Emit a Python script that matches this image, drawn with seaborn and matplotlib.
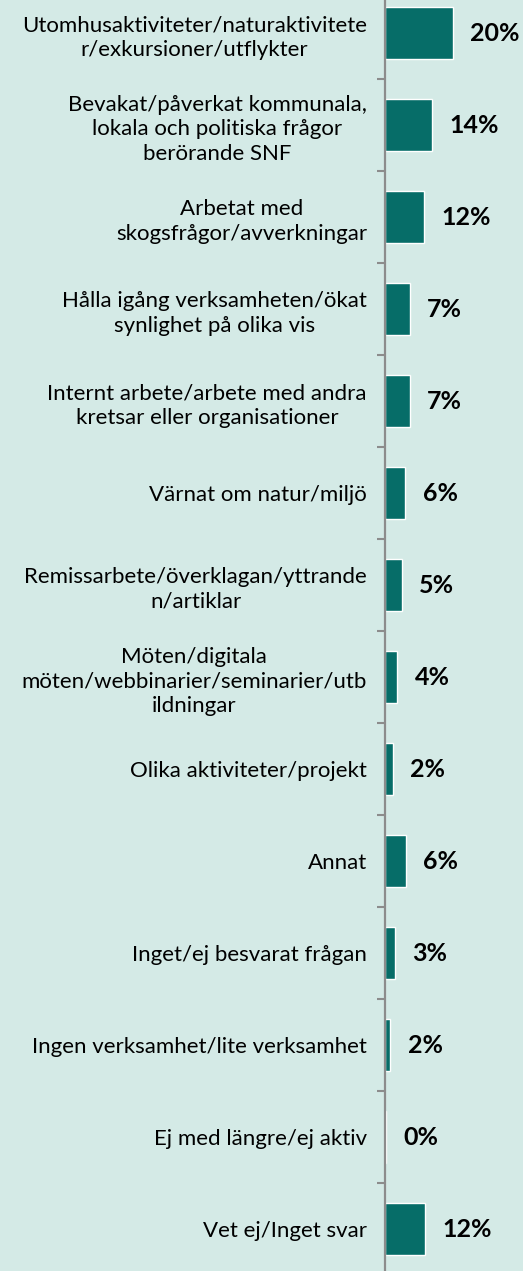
import numpy as np
import seaborn as sns
import matplotlib.pyplot as plt
import pandas as pd
from matplotlib.ticker import FixedLocator

categories = [
    "Utomhusaktiviteter/naturaktivitete\nr/exkursioner/utflykter",
    "Bevakat/påverkat kommunala,\nlokala och politiska frågor\nberörande SNF",
    "Arbetat med\nskogsfrågor/avverkningar",
    "Hålla igång verksamheten/ökat\nsynlighet på olika vis",
    "Internt arbete/arbete med andra\nkretsar eller organisationer",
    "Värnat om natur/miljö",
    "Remissarbete/överklagan/yttrande\nn/artiklar",
    "Möten/digitala\nmöten/webbinarier/seminarier/utb\nildningar",
    "Olika aktiviteter/projekt",
    "Annat",
    "Inget/ej besvarat frågan",
    "Ingen verksamhet/lite verksamhet",
    "Ej med längre/ej aktiv",
    "Vet ej/Inget svar",
]
values = [20.1, 14.0, 11.6, 7.4, 7.3, 6.0, 5.0, 3.6, 2.3, 6.2, 3.0, 1.6, 0.3, 11.8]
value_labels = ["20%", "14%", "12%", "7%", "7%", "6%", "5%", "4%", "2%", "6%", "3%", "2%", "0%", "12%"]

BG = "#D4EAE6"
BAR = "#066D68"
AXIS = "#8C8C8C"

sns.set_theme(style="white")
plt.rcParams['font.family'] = ['Lato', 'DejaVu Sans']

df = pd.DataFrame(dict(Kategori=categories, Andel=values))

fig = plt.figure(figsize=(5.23, 12.71), dpi=100, facecolor=BG)
ax = fig.add_axes([385 / 523, -4 / 1271, 138 / 523, 1288 / 1271])
ax.set_facecolor(BG)

sns.barplot(data=df, x="Andel", y="Kategori", orient="h", color=BAR,
            width=0.57, saturation=1, ax=ax)

for i, (v, lab) in enumerate(zip(values, value_labels)):
    ax.annotate(lab, (v, i), xytext=(12.5, 0), textcoords="offset points",
                va="center", ha="left", fontsize=18, fontweight="bold",
                color="black")

ax.set_xlim(0, 41)
ax.set_ylim(len(categories) - 0.5, -0.5)
ax.set_xlabel("")
ax.set_ylabel("")
ax.set_xticks([])

ax.set_yticks(range(len(categories)))
ax.set_yticklabels(categories, fontsize=16, color="black", multialignment="center",
                   linespacing=1.3)
ax.tick_params(axis="y", which="major", length=0, pad=13)
ax.yaxis.set_minor_locator(FixedLocator(np.arange(-0.5, len(categories), 1)))
ax.tick_params(axis="y", which="minor", length=6, width=1.5, color=AXIS, left=True)

for side in ["top", "right", "bottom"]:
    ax.spines[side].set_visible(False)
ax.spines["left"].set_color(AXIS)
ax.spines["left"].set_linewidth(1.6)

fig.savefig("out.png", dpi=100, facecolor=BG)
